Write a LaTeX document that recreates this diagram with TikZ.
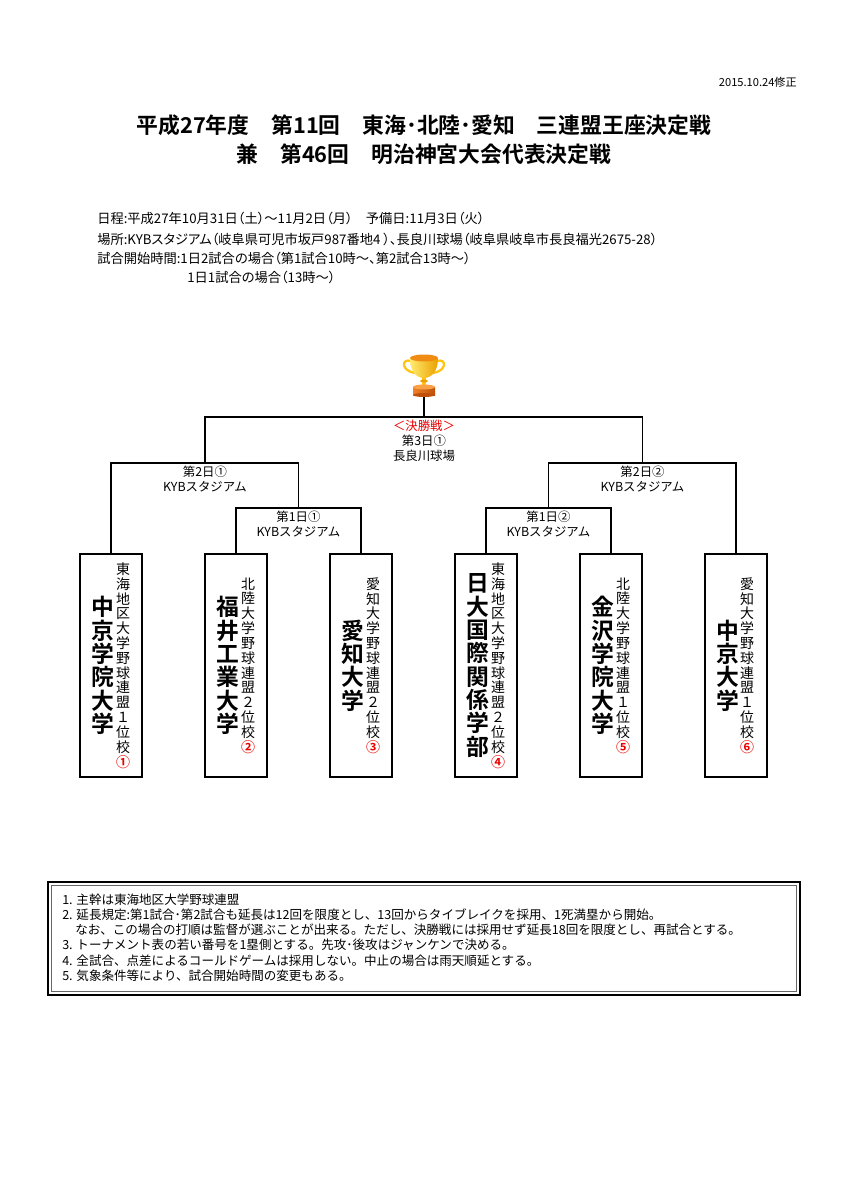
\documentclass[tikz,border=0pt]{standalone}
\usepackage{fontspec}
\setmainfont{Noto Sans CJK JP}[BoldFont={Noto Sans CJK JP Bold}]
\newfontfamily\propfont{Noto Sans CJK JP}[RawFeature=+palt]
\usetikzlibrary{calc}
\definecolor{gold}{RGB}{255,196,20}
\definecolor{goldlight}{RGB}{255,235,110}
\definecolor{golddark}{RGB}{235,160,0}
\definecolor{goldrim}{RGB}{240,140,20}
\definecolor{baselight}{RGB}{240,130,40}
\definecolor{basedark}{RGB}{190,80,10}
\definecolor{basetop}{RGB}{250,160,70}
\definecolor{redtxt}{RGB}{235,0,0}
\newcommand{\rnum}[1]{\textcolor{redtxt}{\bfseries #1}}
\begin{document}
\begin{tikzpicture}[x=0.7017pt,y=-0.7017pt,
  conn/.style={line width=0.9pt},
  teambox/.style={draw, line width=1.9pt, minimum width=43.5pt, minimum height=156.5pt, inner sep=0},
  bigname/.style={font=\fontsize{16pt}{16.4pt}\selectfont\bfseries, align=center, inner sep=0},
  league/.style={font=\fontsize{9.8pt}{10.4pt}\selectfont, align=center, inner sep=0},
  lbl/.style={font=\fontsize{8.7pt}{10.5pt}\selectfont, align=center, inner sep=0, anchor=north},
  info/.style={font=\propfont\fontsize{9.3pt}{10pt}\selectfont, anchor=west, inner sep=0},
  note/.style={font=\fontsize{8.8pt}{10pt}\selectfont, anchor=west, inner sep=0},
  ttl/.style={font=\fontsize{15.3pt}{17pt}\selectfont\bfseries, inner sep=0},
]
\fill[white] (0,0) rectangle (848,1200);
\useasboundingbox (0,0) rectangle (848,1200);

% date
\node[font=\fontsize{7.8pt}{8pt}\selectfont, anchor=east, inner sep=0] (date) at (797,82) {2015.10.24修正};

% titles
\node[ttl] (t1) at (424,125) {平成27年度　第11回　東海･北陸･愛知　三連盟王座決定戦};
\node[ttl] (t2) at (424,154) {兼　第46回　明治神宮大会代表決定戦};

% info
\node[info] (i1) at (97,218) {日程:平成27年10月31日（土）～11月2日（月）　予備日:11月3日（火）};
\node[info] (i2) at (97,239) {場所:KYBスタジアム（岐阜県可児市坂戸987番地4 ）、長良川球場（岐阜県岐阜市長良福光2675-28）};
\node[info] (i3) at (97,258) {試合開始時間:1日2試合の場合（第1試合10時～、第2試合13時～）};
\node[info] (i4) at (187,277) {1日1試合の場合（13時～）};

% trophy
\draw[gold, line width=1.6pt] (411,361) .. controls (401,358) and (401,371) .. (415,373);
\draw[gold, line width=1.6pt] (437,361) .. controls (447,358) and (447,371) .. (433,373);
\shade[left color=goldlight, right color=golddark] (410,358) .. controls (410,372) and (417,378) .. (424,378) .. controls (431,378) and (438,372) .. (438,358) -- cycle;
\fill[goldrim] (424,358) ellipse [x radius=14, y radius=3.5];
\fill[gold] (422,377) rectangle (426,385);
\fill[golddark] (424,381) ellipse [x radius=4, y radius=1.5];
\shade[left color=baselight, right color=basedark] (413,387) rectangle (435,395);
\fill[basedark] (424,395) ellipse [x radius=11, y radius=2];
\fill[basetop] (424,387) ellipse [x radius=11, y radius=2.5];
\coordinate (trophy) at (424,397);

% team boxes
\node[teambox] (b1) at (111,665.5) {};
\node[teambox] (b2) at (236,665.5) {};
\node[teambox] (b3) at (361,665.5) {};
\node[teambox] (b4) at (486,665.5) {};
\node[teambox] (b5) at (611,665.5) {};
\node[teambox] (b6) at (736,665.5) {};

\node[bigname] (n1) at ($(b1.center)+(-8,0)$) {中\\京\\学\\院\\大\\学};
\node[league] (l1) at ($(b1.center)+(12,0)$) {東\\海\\地\\区\\大\\学\\野\\球\\連\\盟\\１\\位\\校\\\rnum{①}};
\node[bigname] (n2) at ($(b2.center)+(-8,0)$) {福\\井\\工\\業\\大\\学};
\node[league] (l2) at ($(b2.center)+(12,0)$) {北\\陸\\大\\学\\野\\球\\連\\盟\\２\\位\\校\\\rnum{②}};
\node[bigname] (n3) at ($(b3.center)+(-8,0)$) {愛\\知\\大\\学};
\node[league] (l3) at ($(b3.center)+(12,0)$) {愛\\知\\大\\学\\野\\球\\連\\盟\\２\\位\\校\\\rnum{③}};
\node[bigname] (n4) at ($(b4.center)+(-8,0)$) {日\\大\\国\\際\\関\\係\\学\\部};
\node[league] (l4) at ($(b4.center)+(12,0)$) {東\\海\\地\\区\\大\\学\\野\\球\\連\\盟\\２\\位\\校\\\rnum{④}};
\node[bigname] (n5) at ($(b5.center)+(-8,0)$) {金\\沢\\学\\院\\大\\学};
\node[league] (l5) at ($(b5.center)+(12,0)$) {北\\陸\\大\\学\\野\\球\\連\\盟\\１\\位\\校\\\rnum{⑤}};
\node[bigname] (n6) at ($(b6.center)+(-8,0)$) {中\\京\\大\\学};
\node[league] (l6) at ($(b6.center)+(11,0)$) {愛\\知\\大\\学\\野\\球\\連\\盟\\１\\位\\校\\\rnum{⑥}};

% bracket
\coordinate (m1) at (298.5,508);
\coordinate (m2) at (548.5,508);
\coordinate (s1) at (205,463);
\coordinate (s2) at (642.5,463);
\coordinate (f) at (424,417);
\draw[conn] (b2.north) |- (m1) -| (b3.north);
\draw[conn] (b4.north) |- (m2) -| (b5.north);
\draw[conn] (b1.north) |- (s1) -| (m1);
\draw[conn] (m2) |- (s2) -| (b6.north);
\draw[conn] (s1) |- (f) -| (s2);
\draw[conn] (f) -- (trophy);

% labels
\node[lbl] (lf) at ($(f)+(0,3)$) {\textcolor{redtxt}{＜決勝戦＞}\\第3日①\\長良川球場};
\node[lbl] (ls1) at ($(s1)+(0,3)$) {第2日①\\KYBスタジアム};
\node[lbl] (ls2) at ($(s2)+(0,3)$) {第2日②\\KYBスタジアム};
\node[lbl] (lm1) at ($(m1)+(0,3)$) {第1日①\\KYBスタジアム};
\node[lbl] (lm2) at ($(m2)+(0,3)$) {第1日②\\KYBスタジアム};

% notes box
\draw[line width=1.5pt] (48,882) rectangle (800,995);
\draw[line width=0.6pt, black!60] (51.5,885.5) rectangle (796.5,991.5);
\node[note] (r1) at (62,900) {1. 主幹は東海地区大学野球連盟};
\node[note] (r2) at (62,915) {2. 延長規定:第1試合･第2試合も延長は12回を限度とし、13回からタイブレイクを採用、1死満塁から開始。};
\node[note] (r3) at (75,930) {なお、この場合の打順は監督が選ぶことが出来る。ただし、決勝戦には採用せず延長18回を限度とし、再試合とする。};
\node[note] (r4) at (62,945) {3. トーナメント表の若い番号を1塁側とする。先攻･後攻はジャンケンで決める。};
\node[note] (r5) at (62,961) {4. 全試合、点差によるコールドゲームは採用しない。中止の場合は雨天順延とする。};
\node[note] (r6) at (62,976) {5. 気象条件等により、試合開始時間の変更もある。};
\end{tikzpicture}
\end{document}
